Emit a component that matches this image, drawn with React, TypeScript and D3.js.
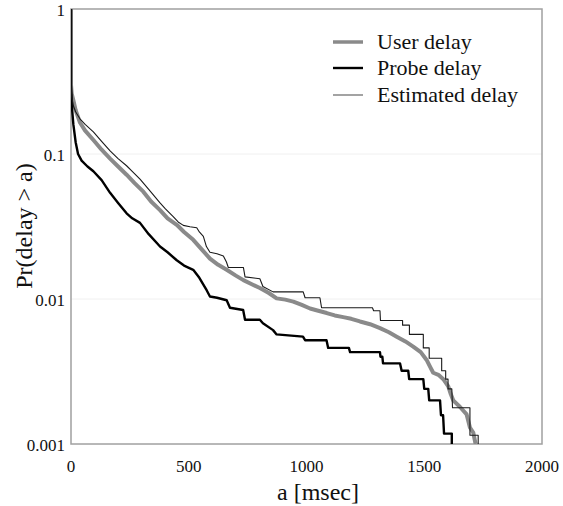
import React from "react";
import * as d3 from "d3";

// ---- data ----
const xTicks = [0, 500, 1000, 1500, 2000];
const yTicks = [1, 0.1, 0.01, 0.001];
const yTickLabels = ["1", "0.1", "0.01", "0.001"];

const userDelay = [
  [0, 1], [0, 0.3], [3, 0.26], [10, 0.235], [20, 0.2], [38, 0.165], [60, 0.145], [95, 0.125],
  [130, 0.107], [166, 0.093], [200, 0.082], [236, 0.072], [270, 0.063], [307, 0.055], [340, 0.047],
  [378, 0.041], [410, 0.036], [449, 0.0325], [480, 0.029], [519, 0.0256], [555, 0.022], [590, 0.019],
  [625, 0.0172], [661, 0.0159], [700, 0.0145], [732, 0.0135], [770, 0.0126], [802, 0.0119],
  [840, 0.011], [873, 0.0101], [910, 0.0099], [944, 0.0096], [980, 0.0091], [1015, 0.0086],
  [1050, 0.0083], [1086, 0.008], [1120, 0.0077], [1156, 0.0075], [1190, 0.0073], [1227, 0.007],
  [1270, 0.0067], [1312, 0.0063], [1350, 0.0059], [1383, 0.0055], [1420, 0.0051], [1453, 0.0047],
  [1485, 0.0043], [1510, 0.0038], [1525, 0.0034], [1538, 0.0031], [1560, 0.003], [1581, 0.0028],
  [1602, 0.0025], [1613, 0.0022], [1623, 0.002], [1652, 0.0018], [1680, 0.0016], [1694, 0.0013],
  [1708, 0.0012], [1718, 0.001],
];

const probeDelay = [
  [0, 1], [0, 0.3], [2, 0.26], [5, 0.2], [10, 0.16], [20, 0.12], [30, 0.1], [45, 0.09], [70, 0.082],
  [95, 0.076], [130, 0.066], [166, 0.054], [200, 0.046], [236, 0.039], [260, 0.036], [293, 0.0335],
  [330, 0.028], [378, 0.023], [410, 0.021], [449, 0.0185], [480, 0.017], [519, 0.0159], [545, 0.014],
  [576, 0.0115], [590, 0.0104], [620, 0.0102], [661, 0.0098], [675, 0.0087], [731, 0.0084],
  [739, 0.0072], [802, 0.0072], [815, 0.0068], [858, 0.0061], [873, 0.0057], [985, 0.0055],
  [994, 0.0052], [1085, 0.0052], [1092, 0.0046], [1180, 0.0046], [1185, 0.0043], [1312, 0.0043],
  [1314, 0.004], [1322, 0.004], [1325, 0.0036], [1397, 0.0036], [1404, 0.0032], [1432, 0.0032],
  [1436, 0.0028], [1496, 0.0028], [1500, 0.0024], [1517, 0.0024], [1521, 0.002], [1567, 0.002],
  [1571, 0.00158], [1580, 0.00158], [1584, 0.00118], [1617, 0.00118], [1617, 0.001],
];

const estimatedDelay = [
  [0, 1], [0, 0.3], [3, 0.25], [10, 0.215], [20, 0.195], [38, 0.175], [60, 0.16], [95, 0.142],
  [130, 0.122], [166, 0.105], [200, 0.093], [236, 0.083], [260, 0.076], [293, 0.067], [330, 0.057],
  [378, 0.046], [400, 0.042], [434, 0.037], [455, 0.034], [477, 0.0322], [505, 0.0315], [534, 0.031],
  [545, 0.029], [562, 0.027], [575, 0.023], [590, 0.021], [620, 0.0205], [647, 0.0198], [660, 0.018],
  [668, 0.0165], [732, 0.0165], [739, 0.0142], [802, 0.0138], [815, 0.0122], [858, 0.0112],
  [986, 0.0112], [994, 0.0102], [1057, 0.0102], [1064, 0.0087], [1280, 0.0087], [1285, 0.0083],
  [1312, 0.0083], [1314, 0.0071], [1408, 0.0071], [1408, 0.0066], [1437, 0.0066], [1437, 0.0057],
  [1496, 0.0057], [1496, 0.0046], [1521, 0.0046], [1521, 0.0039], [1574, 0.0039], [1574, 0.0032],
  [1591, 0.0032], [1591, 0.0028], [1601, 0.0028], [1601, 0.0024], [1617, 0.0024], [1620, 0.00178],
  [1694, 0.00178], [1694, 0.00115], [1729, 0.00115], [1729, 0.001],
];

const seriesNames = ["User delay", "Probe delay", "Estimated delay"];

export default function App() {
  const W = 563, H = 506;
  const left = 71, right = 542, top = 9, bottom = 444;
  const x = d3.scaleLinear().domain([0, 2000]).range([left, right]);
  const y = d3.scaleLog().domain([0.001, 1]).range([bottom, top]);
  const line = d3.line().x((d: any) => x(d[0])).y((d: any) => y(d[1]));

  const styles = [
    { data: userDelay, stroke: "#8a8a8a", width: 4 },
    { data: probeDelay, stroke: "#000", width: 2.4 },
    { data: estimatedDelay, stroke: "#1a1a1a", width: 1.1 },
  ];
  const legendY = [42, 68, 95];

  return (
    <svg width={W} height={H} style={{ position: "absolute", left: 0, top: 0, background: "#fff" }}>
      <defs>
        <clipPath id="plotclip">
          <rect x={left} y={top - 2} width={right - left} height={bottom - top + 2} />
        </clipPath>
      </defs>
      {yTicks.slice(1, 3).map(t => (
        <line key={t} x1={left} x2={right} y1={y(t)} y2={y(t)} stroke="#f0f0f0" strokeWidth={1} />
      ))}
      <rect x={left} y={top} width={right - left} height={bottom - top} fill="none" stroke="#a0a0a0" strokeWidth={1.5} />
      <g clipPath="url(#plotclip)">
        {styles.map((s, i) => (
          <path key={i} d={line(s.data as any) || ""} fill="none" stroke={s.stroke} strokeWidth={s.width} strokeLinejoin="round" />
        ))}
      </g>
      {yTicks.map((t, i) => (
        <text key={t} x={65} y={y(t) + 7} textAnchor="end" fontSize={17} fill="#111" fontFamily="Times New Roman">{yTickLabels[i]}</text>
      ))}
      {xTicks.map(t => (
        <text key={t} x={x(t)} y={472} textAnchor="middle" fontSize={17} fill="#111" fontFamily="Times New Roman">{t}</text>
      ))}
      <text x={318} y={500} textAnchor="middle" fontSize={24} fill="#111" fontFamily="Times New Roman">a [msec]</text>
      <text transform="translate(32,226) rotate(-90)" textAnchor="middle" fontSize={24} fill="#111" fontFamily="Times New Roman">Pr(delay &gt; a)</text>
      {seriesNames.map((n, i) => (
        <g key={n}>
          <line x1={333} x2={363} y1={legendY[i]} y2={legendY[i]} stroke={i === 2 ? "#666" : styles[i].stroke} strokeWidth={i === 2 ? 1.2 : styles[i].width - (i === 0 ? 0.5 : 0)} />
          <text x={377} y={legendY[i] + 7} fontSize={22} fill="#111" fontFamily="Times New Roman">{n}</text>
        </g>
      ))}
    </svg>
  );
}
